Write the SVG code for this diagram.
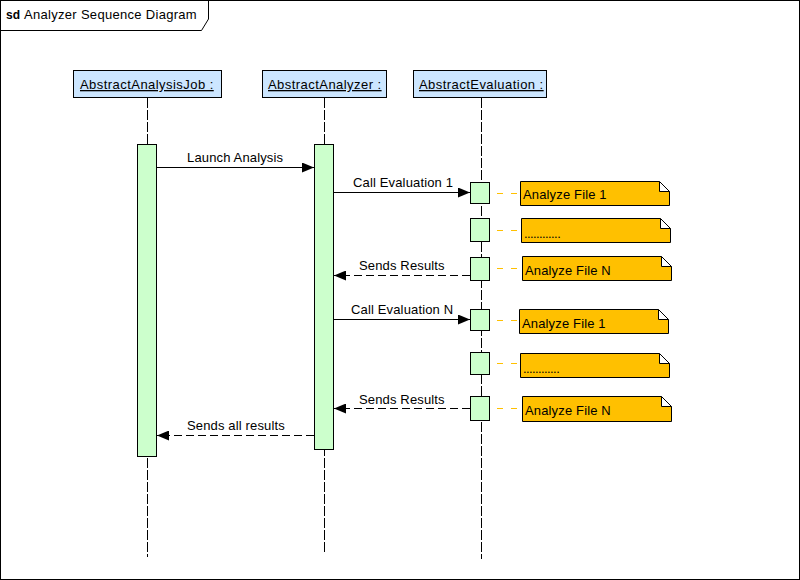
<svg xmlns="http://www.w3.org/2000/svg" width="800" height="580" viewBox="0 0 800 580">
<defs>
<marker id="ah" markerWidth="12" markerHeight="10" refX="12" refY="5" orient="auto" markerUnits="userSpaceOnUse">
<path d="M0,0 L12,5 L0,10 Z" fill="#000"/>
</marker>
<style>
text{font-family:"Liberation Sans",Arial,sans-serif;font-size:13px;fill:#000;letter-spacing:0.15px}
.hdr{fill:#cce6ff;stroke:#000;stroke-width:1}
.act{fill:#ccffcc;stroke:#000;stroke-width:1}
.note{fill:#ffc000;stroke:#000;stroke-width:1}
.life{stroke:#000;stroke-width:1;stroke-dasharray:10,2;fill:none}
.msg{stroke:#000;stroke-width:1;fill:none}
.ret{stroke:#000;stroke-width:1;fill:none;stroke-dasharray:8,4}
.lnk{stroke:#ffc000;stroke-width:1;stroke-dasharray:6,8;fill:none}
.dots{letter-spacing:-0.6px}
.h{letter-spacing:0.45px}
</style>
</defs>
<rect x="0.5" y="0.5" width="799" height="579" fill="#fff" stroke="#000"/>
<g id="frame">
<path d="M0.5,30.5 H201.5 L208.5,19 V0.5" fill="none" stroke="#000"/>
<text x="6" y="19" style="font-weight:bold;font-size:12px">sd</text>
<text x="24" y="19" style="letter-spacing:0.3px">Analyzer Sequence Diagram</text>
</g>
<g id="lifelines">
<line class="life" x1="147.5" y1="98" x2="147.5" y2="557"/>
<line class="life" x1="324.5" y1="98" x2="324.5" y2="552"/>
<line class="life" x1="481.5" y1="98" x2="481.5" y2="559"/>
</g>
<g id="job">
<rect class="hdr" x="73.5" y="70.5" width="148" height="27"/>
<text class="h" x="80" y="89" text-decoration="underline">AbstractAnalysisJob :</text>
<rect class="act" x="137.5" y="144.5" width="19" height="312"/>
</g>
<g id="analyzer">
<rect class="hdr" x="262.5" y="70.5" width="124" height="27"/>
<text class="h" x="268" y="89" text-decoration="underline">AbstractAnalyzer :</text>
<rect class="act" x="314.5" y="144.5" width="19" height="305"/>
</g>
<g id="evaluation">
<rect class="hdr" x="413.5" y="70.5" width="133" height="27"/>
<text class="h" x="419" y="89" text-decoration="underline">AbstractEvaluation :</text>
<rect class="act" x="470.5" y="182.5" width="19" height="21"/>
<rect class="act" x="470.5" y="218.5" width="19" height="23"/>
<rect class="act" x="470.5" y="257.5" width="19" height="23"/>
<rect class="act" x="470.5" y="309.5" width="19" height="21"/>
<rect class="act" x="470.5" y="352.5" width="19" height="22"/>
<rect class="act" x="470.5" y="396.5" width="19" height="24"/>
</g>
<g id="note1">
<path class="note" d="M520.5,181.5 H659.5 L669.5,191.5 V205.5 H520.5 Z M659.5,181.5 V191.5 H669.5"/>
<text x="523" y="199">Analyze File 1</text>
</g>
<g id="note2">
<path class="note" d="M521.5,218.5 H660.5 L670.5,228.5 V242.5 H521.5 Z M660.5,218.5 V228.5 H670.5"/>
<text class="dots" x="524" y="238">............</text>
</g>
<g id="note3">
<path class="note" d="M522.5,256.5 H661.5 L671.5,266.5 V280.5 H522.5 Z M661.5,256.5 V266.5 H671.5"/>
<text x="525" y="275">Analyze File N</text>
</g>
<g id="note4">
<path class="note" d="M519.5,309.5 H658.5 L668.5,319.5 V333.5 H519.5 Z M658.5,309.5 V319.5 H668.5"/>
<text x="522" y="328">Analyze File 1</text>
</g>
<g id="note5">
<path class="note" d="M520.5,353.5 H659.5 L669.5,363.5 V377.5 H520.5 Z M659.5,353.5 V363.5 H669.5"/>
<text class="dots" x="523" y="373">............</text>
</g>
<g id="note6">
<path class="note" d="M522.5,396.5 H661.5 L671.5,406.5 V421.5 H522.5 Z M661.5,396.5 V406.5 H671.5"/>
<text x="525" y="415">Analyze File N</text>
</g>
<g id="connectors">
<line class="msg" x1="157" y1="167.5" x2="314" y2="167.5" marker-end="url(#ah)"/>
<text x="187" y="162">Launch Analysis</text>
<line class="msg" x1="334" y1="192.5" x2="470" y2="192.5" marker-end="url(#ah)"/>
<text x="353" y="187">Call Evaluation 1</text>
<line class="ret" x1="470" y1="275.5" x2="334" y2="275.5" marker-end="url(#ah)"/>
<text x="359" y="270">Sends Results</text>
<line class="msg" x1="334" y1="319.5" x2="470" y2="319.5" marker-end="url(#ah)"/>
<text x="351" y="314">Call Evaluation N</text>
<line class="ret" x1="470" y1="408.5" x2="334" y2="408.5" marker-end="url(#ah)"/>
<text x="359" y="404">Sends Results</text>
<line class="ret" x1="314" y1="435.5" x2="157" y2="435.5" marker-end="url(#ah)"/>
<text x="187" y="430">Sends all results</text>
<line class="lnk" x1="497" y1="193.5" x2="520" y2="193.5"/>
<line class="lnk" x1="497" y1="230.5" x2="521" y2="230.5"/>
<line class="lnk" x1="497" y1="268.5" x2="522" y2="268.5"/>
<line class="lnk" x1="497" y1="320.5" x2="519" y2="320.5"/>
<line class="lnk" x1="497" y1="363.5" x2="520" y2="363.5"/>
<line class="lnk" x1="497" y1="408.5" x2="522" y2="408.5"/>
</g>
</svg>
